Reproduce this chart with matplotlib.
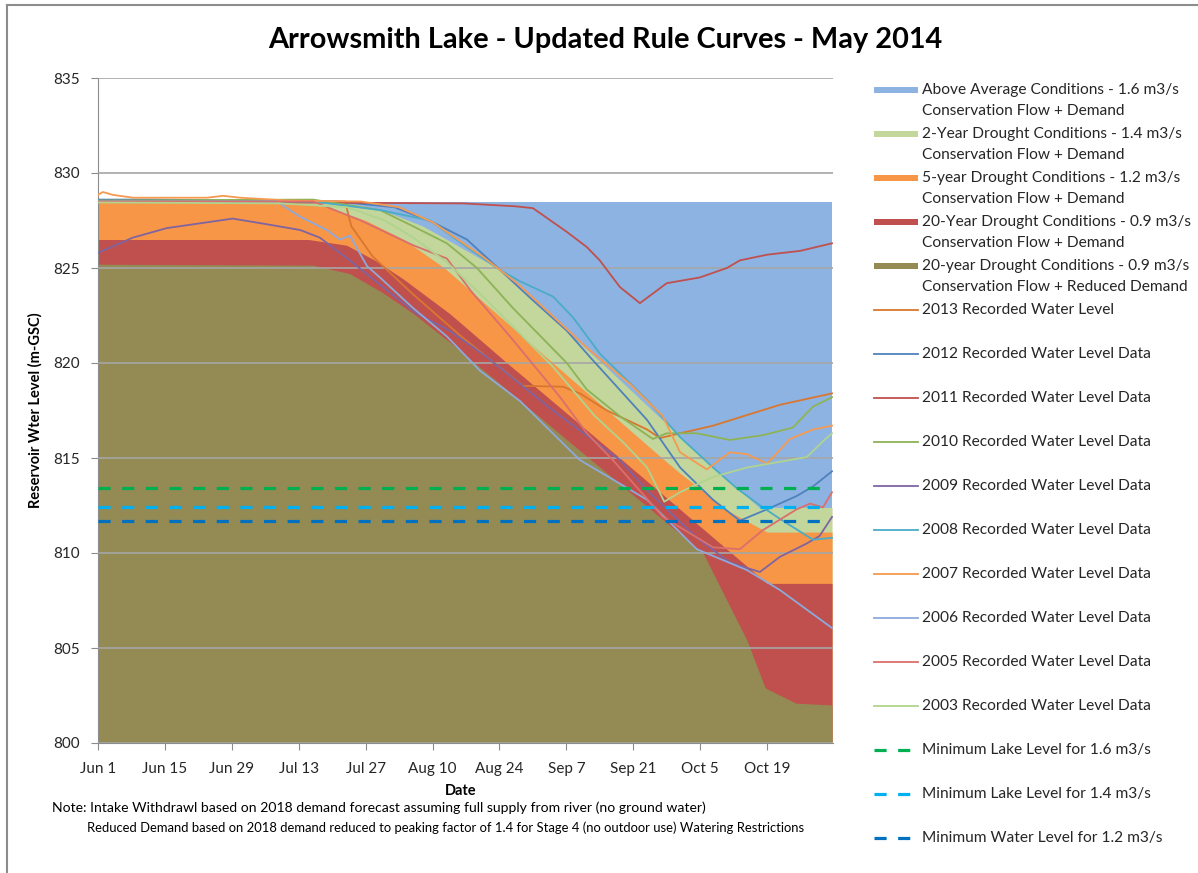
import matplotlib
matplotlib.use("Agg")
import matplotlib.pyplot as plt
from matplotlib.patches import Rectangle
from matplotlib.lines import Line2D

plt.rcParams['font.family'] = ['Lato', 'DejaVu Sans']

# days counted from Jun 1
tick_days = [0, 14, 28, 42, 56, 70, 84, 98, 112, 126, 140]
tick_labels = ['Jun 1', 'Jun 15', 'Jun 29', 'Jul 13', 'Jul 27', 'Aug 10',
               'Aug 24', 'Sep 7', 'Sep 21', 'Oct 5', 'Oct 19']

# rule curves (filled from the axis floor)
above_day = [0, 153.6]
above_lvl = [828.5, 828.5]
two_yr_day = [0, 45, 55, 62, 68, 73, 83.5, 105.4, 126.6, 138.3, 153.6]
two_yr_lvl = [828.5, 828.5, 828.3, 827.8, 827.2, 826.5, 825.0, 820.0, 815.0, 812.4, 812.4]
five_yr_day = [0, 40, 48, 56, 64, 72.5, 95.2, 118, 121.8, 132, 140, 153.6]
five_yr_lvl = [828.5, 828.5, 828.2, 827.5, 826.5, 825.0, 820.0, 815.0, 814.2, 812.2, 811.1, 811.1]
twenty_yr_day = [0, 44, 52, 58, 64, 73.6, 85.6, 109.2, 140, 153.6]
twenty_yr_lvl = [826.5, 826.5, 826.2, 825.4, 824.4, 822.6, 820.0, 815.0, 808.4, 808.4]
reduced_day = [0, 45, 52.7, 59.6, 66, 73.6, 100.8, 126.6, 135.8, 139.6, 146, 153.6]
reduced_lvl = [825.2, 825.15, 824.7, 823.7, 822.6, 821.1, 815.4, 810.0, 805.4, 802.9, 802.1, 802.0]

# recorded water levels
y2013_day = [0, 51.7, 53, 57.5, 66, 76, 88.9, 97.3, 100.8, 106.5, 114.9, 117.6, 121.8, 128.7, 135.8, 142.7, 153.6]
y2013_lvl = [828.5, 828.5, 827.2, 825.6, 823.6, 821.4, 818.8, 818.75, 818.4, 817.5, 816.5, 816.05, 816.3, 816.7, 817.26, 817.8, 818.4]
y2012_day = [0, 11.5, 30, 50, 62, 70.1, 77.2, 83.7, 91, 98.1, 103, 114.9, 121.8, 128.7, 134.3, 140, 146.2, 149.6, 153.6]
y2012_lvl = [828.6, 828.6, 828.55, 828.5, 828.2, 827.4, 826.5, 825.0, 823.3, 821.7, 820.3, 817.0, 814.5, 812.8, 811.7, 812.3, 813.0, 813.5, 814.3]
y2011_day = [0, 76.4, 87.2, 91, 93, 98.1, 102.3, 105, 109.2, 113.4, 119, 125.9, 131.6, 134.3, 140, 146.9, 153.6]
y2011_lvl = [828.5, 828.4, 828.25, 828.15, 827.8, 826.9, 826.1, 825.4, 824.0, 823.15, 824.2, 824.5, 825.0, 825.4, 825.7, 825.9, 826.3]
y2010_day = [0, 45, 59, 65.9, 73, 79.3, 86.8, 98.1, 102.3, 109.2, 116.1, 119, 125.3, 132.2, 139.1, 145.4, 146.9, 149.6, 153.6]
y2010_lvl = [828.55, 828.6, 828.05, 827.2, 826.3, 825.0, 822.9, 820.0, 818.6, 817.2, 816.0, 816.3, 816.3, 815.95, 816.2, 816.6, 817.0, 817.7, 818.2]
y2009_day = [0, 7.3, 14.4, 21.3, 28.2, 35.4, 42.3, 46.4, 52.7, 59.6, 66.7, 73.6, 81.4, 95.2, 109.2, 114.9, 125.3, 132.2, 138.5, 142.7, 148.3, 151, 153.6]
y2009_lvl = [825.8, 826.6, 827.1, 827.35, 827.6, 827.3, 827.0, 826.6, 825.4, 824.0, 822.6, 821.7, 820.3, 817.5, 814.9, 813.3, 810.8, 809.5, 809.0, 809.8, 810.5, 810.9, 811.9]
y2008_day = [0, 45, 59, 69.5, 77.2, 84.1, 88.3, 95.2, 99.4, 105, 114.9, 121.8, 128.7, 133.7, 139.1, 143.3, 149.6, 153.6]
y2008_lvl = [828.5, 828.5, 828.05, 827.5, 826.1, 824.9, 824.3, 823.5, 822.4, 820.5, 818.05, 816.1, 814.5, 813.4, 812.4, 811.7, 810.7, 810.8]
y2007_day = [0, 1, 3.1, 7.3, 17.2, 22.8, 26.2, 29.7, 40, 55, 63, 70.1, 80.5, 87.7, 94.6, 102.3, 111.3, 118.2, 121.8, 127.4, 132.2, 135.8, 140, 144.8, 149.6, 153.6]
y2007_lvl = [828.85, 829.0, 828.85, 828.7, 828.7, 828.7, 828.8, 828.7, 828.55, 828.5, 828.2, 827.4, 825.6, 824.2, 822.6, 820.8, 818.9, 817.2, 815.3, 814.4, 815.3, 815.2, 814.7, 816.0, 816.5, 816.7]
y2006_day = [0, 37.4, 42.3, 47.9, 50.6, 52.7, 56.3, 59, 65.9, 73, 79.9, 88.3, 100.8, 114.9, 125.3, 135.8, 142.7, 153.6]
y2006_lvl = [828.5, 828.5, 827.7, 827.0, 826.5, 826.7, 825.1, 824.5, 822.9, 821.4, 819.6, 818.0, 814.9, 812.8, 810.2, 809.1, 808.05, 806.05]
y2005_day = [0, 45, 55, 65.9, 73, 78, 86.2, 96.7, 102.3, 107.7, 118.2, 128.7, 134.3, 139.1, 146.2, 149, 151.7, 153.6]
y2005_lvl = [828.5, 828.5, 827.5, 826.2, 825.5, 823.8, 821.4, 818.2, 816.3, 814.9, 811.9, 810.3, 810.2, 811.2, 812.3, 812.6, 812.4, 813.2]
y2003_day = [0, 38.1, 52.1, 60, 66, 73, 81.4, 95.2, 104, 110, 114.9, 118.5, 121.8, 128.7, 135.8, 142.7, 148.3, 152, 153.6]
y2003_lvl = [828.45, 828.4, 828.2, 827.5, 826.6, 825.3, 823.3, 819.8, 817.2, 815.8, 814.5, 812.7, 813.2, 814.0, 814.5, 814.8, 815.05, 815.95, 816.3]

# minimum lake levels
min_levels = [813.4, 812.4, 811.7]
min_end_day = 151

fill_series = [
    ('Above Average Conditions - 1.6 m3/s\nConservation Flow + Demand', '#8DB3E2', above_day, above_lvl),
    ('2-Year Drought Conditions - 1.4 m3/s\nConservation Flow + Demand', '#C3D69B', two_yr_day, two_yr_lvl),
    ('5-year Drought Conditions - 1.2 m3/s\nConservation Flow + Demand', '#F79646', five_yr_day, five_yr_lvl),
    ('20-Year Drought Conditions - 0.9 m3/s\nConservation Flow + Demand', '#C0504D', twenty_yr_day, twenty_yr_lvl),
    ('20-year Drought Conditions - 0.9 m3/s\nConservation Flow + Reduced Demand', '#948A54', reduced_day, reduced_lvl),
]
line_series = [
    ('2013 Recorded Water Level', '#D9772F', y2013_day, y2013_lvl),
    ('2012 Recorded Water Level Data', '#4F81BD', y2012_day, y2012_lvl),
    ('2011 Recorded Water Level Data', '#C0504D', y2011_day, y2011_lvl),
    ('2010 Recorded Water Level Data', '#8DB356', y2010_day, y2010_lvl),
    ('2009 Recorded Water Level Data', '#8064A2', y2009_day, y2009_lvl),
    ('2008 Recorded Water Level Data', '#4BACC6', y2008_day, y2008_lvl),
    ('2007 Recorded Water Level Data', '#F59A50', y2007_day, y2007_lvl),
    ('2006 Recorded Water Level Data', '#8EA9DB', y2006_day, y2006_lvl),
    ('2005 Recorded Water Level Data', '#DA6F6C', y2005_day, y2005_lvl),
    ('2003 Recorded Water Level Data', '#B0D48F', y2003_day, y2003_lvl),
]
min_series = [
    ('Minimum Lake Level for 1.6 m3/s', '#00B050', min_levels[0]),
    ('Minimum Lake Level for 1.4 m3/s', '#00B0F0', min_levels[1]),
    ('Minimum Water Level for 1.2 m3/s', '#0070C0', min_levels[2]),
]

W, H = 1198, 873
fig = plt.figure(figsize=(W / 100, H / 100), dpi=100)
ax = fig.add_axes([98 / W, 1 - 743 / H, 735 / W, 665 / H])

for label, color, d, v in fill_series:
    ax.fill_between(d, 800, v, color=color, lw=0, zorder=1)
for label, color, d, v in line_series:
    ax.plot(d, v, color=color, lw=1.3, zorder=3)
for label, color, lvl in min_series:
    ax.hlines(lvl, 0, min_end_day, colors=color, lw=2.3, linestyles=(0, (3.8, 3.6)), zorder=4)

ax.set_xlim(0, 153.8)
ax.set_ylim(800, 835)
ax.set_xticks(tick_days)
ax.set_xticklabels(tick_labels)
ax.set_yticks(range(800, 836, 5))
ax.set_axisbelow(False)
ax.yaxis.grid(True, color='#A6A6A6', lw=1.2)
for s in ['top', 'right']:
    ax.spines[s].set_visible(False)
for s in ['left', 'bottom']:
    ax.spines[s].set_color('#8C8C8C')
ax.tick_params(axis='both', direction='out', length=5, color='#8C8C8C',
               labelsize=11, labelcolor='#262626')
ax.tick_params(axis='x', pad=9)
ax.tick_params(axis='y', pad=8)

ax.set_ylabel('Reservoir Wter Level (m-GSC)', fontsize=10.5, fontweight='bold')
ax.yaxis.set_label_coords(-0.076, 0.5)
ax.set_xlabel('Date', fontsize=10.5, fontweight='bold')
ax.xaxis.set_label_coords(0.493, -0.062)

fig.text(0.505, 0.954, 'Arrowsmith Lake - Updated Rule Curves - May 2014',
         ha='center', va='center', fontsize=20.8, fontweight='bold')
fig.text(52 / W, 1 - 808 / H,
         'Note: Intake Withdrawl based on 2018 demand forecast assuming full supply from river (no ground water)',
         ha='left', va='center', fontsize=10.1)
fig.text(87 / W, 1 - 828 / H,
         'Reduced Demand based on 2018 demand reduced to peaking factor of 1.4 for Stage 4 (no outdoor use) Watering Restrictions',
         ha='left', va='center', fontsize=9.4)

# legend and frame drawn in pixel space
lax = fig.add_axes([0, 0, 1, 1])
lax.set_xlim(0, W)
lax.set_ylim(H, 0)
lax.axis('off')
lax.plot([7, 7], [5, H], color='#8C8C8C', lw=1.5, clip_on=False)
lax.plot([7, W], [5, 5], color='#8C8C8C', lw=1.5, clip_on=False)

y = 90
step = 44
for label, color, d, v in fill_series:
    lax.add_patch(Rectangle((874, y - 3), 44, 6, color=color, lw=0))
    first, second = label.split('\n')
    lax.text(922, y, first, va='center', ha='left', fontsize=11.2, color='#262626')
    lax.text(922, y + 21, second, va='center', ha='left', fontsize=11.2, color='#262626')
    y += step
for label, color, d, v in line_series:
    lax.add_line(Line2D([874, 918], [y, y], color=color, lw=1.3))
    lax.text(922, y, label, va='center', ha='left', fontsize=11.2, color='#262626')
    y += step
for label, color, lvl in min_series:
    lax.add_line(Line2D([874, 910], [y, y], color=color, lw=2.3, dashes=(3.8, 3.6)))
    lax.text(922, y, label, va='center', ha='left', fontsize=11.2, color='#262626')
    y += step

fig.savefig('out.png', dpi=100)
